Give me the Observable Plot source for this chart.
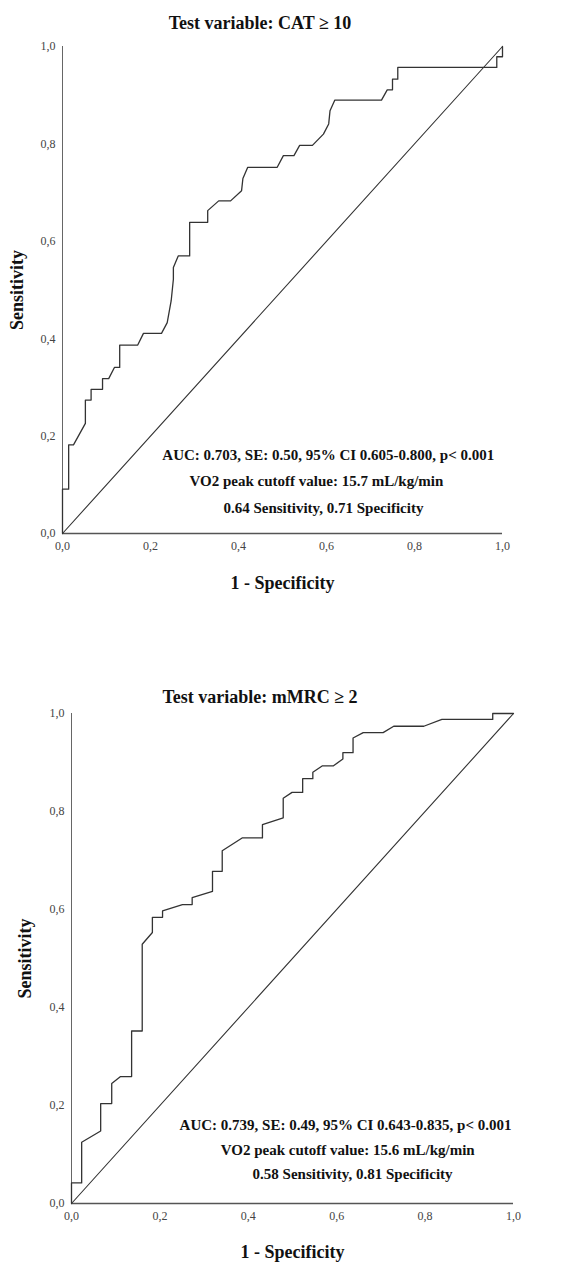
<!DOCTYPE html>
<html>
<head>
<meta charset="utf-8">
<script src="https://cdn.jsdelivr.net/npm/d3@7"></script>
<script src="https://cdn.jsdelivr.net/npm/@observablehq/plot@0.6"></script>
<style>
  html, body { margin: 0; padding: 0; background: #fff; }
  body { width: 580px; height: 1262px; position: relative; overflow: hidden; font-family: "Liberation Serif", "Times New Roman", serif; }
  .title { position: absolute; left: 0; width: 520px; text-align: center; font-weight: bold; font-size: 18px; color: #111; line-height: 18px; }
  .chart { position: absolute; left: 0; }
</style>
</head>
<body>
<div class="title" id="t1" style="top:14px">Test variable: CAT ≥ 10</div>
<div class="chart" id="c1" style="top:36px"></div>
<div class="title" id="t2" style="top:688px">Test variable: mMRC ≥ 2</div>
<div class="chart" id="c2" style="top:705px"></div>
<script>
// ---- Data ----
const ticks = [0, 0.2, 0.4, 0.6, 0.8, 1.0];
const diagonal = [0, 1];

// Chart 1: CAT >= 10
const catFPR = [0, 0, 0.014, 0.014, 0.025, 0.052, 0.052, 0.065, 0.065, 0.091, 0.091, 0.105, 0.118, 0.13, 0.13, 0.171, 0.184, 0.225, 0.238, 0.247, 0.252, 0.252, 0.263, 0.289, 0.289, 0.33, 0.33, 0.355, 0.382, 0.407, 0.41, 0.421, 0.488, 0.502, 0.526, 0.539, 0.568, 0.593, 0.605, 0.608, 0.619, 0.725, 0.738, 0.75, 0.75, 0.762, 0.762, 0.987, 0.987, 1.0, 1.0];
const catTPR = [0, 0.091, 0.091, 0.182, 0.182, 0.226, 0.274, 0.274, 0.296, 0.296, 0.318, 0.318, 0.341, 0.341, 0.387, 0.387, 0.411, 0.411, 0.433, 0.478, 0.522, 0.546, 0.570, 0.570, 0.639, 0.639, 0.663, 0.683, 0.683, 0.704, 0.729, 0.752, 0.752, 0.776, 0.776, 0.797, 0.797, 0.820, 0.841, 0.868, 0.890, 0.890, 0.911, 0.911, 0.933, 0.933, 0.957, 0.957, 0.979, 0.979, 1.0];
const catNotes = [
  "AUC: 0.703, SE: 0.50, 95% CI 0.605-0.800, p< 0.001",
  "VO2 peak cutoff value: 15.7 mL/kg/min",
  "0.64 Sensitivity, 0.71 Specificity"
];

// Chart 2: mMRC >= 2
const mmrcFPR = [0, 0, 0.023, 0.023, 0.066, 0.066, 0.091, 0.091, 0.111, 0.136, 0.136, 0.160, 0.160, 0.183, 0.183, 0.206, 0.206, 0.251, 0.273, 0.273, 0.319, 0.319, 0.341, 0.341, 0.386, 0.432, 0.432, 0.479, 0.479, 0.499, 0.523, 0.523, 0.546, 0.546, 0.567, 0.592, 0.614, 0.614, 0.637, 0.637, 0.660, 0.705, 0.729, 0.797, 0.838, 0.953, 0.953, 1.0];
const mmrcTPR = [0, 0.042, 0.042, 0.125, 0.148, 0.204, 0.204, 0.245, 0.259, 0.259, 0.352, 0.352, 0.529, 0.553, 0.584, 0.584, 0.597, 0.610, 0.610, 0.624, 0.637, 0.678, 0.678, 0.720, 0.746, 0.746, 0.773, 0.787, 0.827, 0.839, 0.839, 0.867, 0.867, 0.880, 0.893, 0.893, 0.907, 0.920, 0.920, 0.950, 0.961, 0.961, 0.974, 0.974, 0.988, 0.988, 1.0, 1.0];
const mmrcNotes = [
  "AUC: 0.739, SE: 0.49, 95% CI 0.643-0.835, p< 0.001",
  "VO2 peak cutoff value: 15.6 mL/kg/min",
  "0.58 Sensitivity, 0.81 Specificity"
];

const yLabel = "Sensitivity";
const xLabel = "1 - Specificity";

// ---- Drawing ----
const fmt = d => d.toFixed(1).replace(".", ",");
const FONT = "'Liberation Serif', 'Times New Roman', serif";

function roc({fpr, tpr, notes, width, height, ml, mr, mt, mb, notePos, yLabDx, xLabDy}) {
  const pts = fpr.map((x, i) => ({x, y: tpr[i]}));
  const diag = diagonal.map(v => ({x: v, y: v}));
  const noteData = notes.map((t, i) => ({t, x: notePos[i][0], y: notePos[i][1]}));
  return Plot.plot({
    width, height,
    marginLeft: ml, marginRight: mr, marginTop: mt, marginBottom: mb,
    style: {fontFamily: FONT, fontSize: "12px", color: "#444", background: "#fff"},
    x: {domain: [0, 1], ticks, tickFormat: fmt, tickSize: 0, tickPadding: 8, label: null},
    y: {domain: [0, 1], ticks, tickFormat: fmt, tickSize: 0, tickPadding: 7, label: null},
    marks: [
      Plot.ruleX([0], {stroke: "#666", strokeWidth: 1}),
      Plot.ruleY([0], {stroke: "#555", strokeWidth: 1.6}),
      Plot.line(diag, {x: "x", y: "y", stroke: "#333", strokeWidth: 1.1}),
      Plot.line(pts, {x: "x", y: "y", stroke: "#333", strokeWidth: 1.3}),
      Plot.text(noteData, {x: "x", y: "y", text: "t", fontWeight: "bold", fontSize: 15, fill: "#111", textAnchor: "middle", fontFamily: FONT}),
      Plot.text([yLabel], {frameAnchor: "left", dx: yLabDx, rotate: -90, textAnchor: "middle", lineAnchor: "middle", fontWeight: "bold", fontSize: 18, fill: "#111", fontFamily: FONT}),
      Plot.text([xLabel], {frameAnchor: "bottom", dy: xLabDy, textAnchor: "middle", lineAnchor: "middle", fontWeight: "bold", fontSize: 18, fill: "#111", fontFamily: FONT})
    ]
  });
}

document.getElementById("c1").appendChild(roc({
  fpr: catFPR, tpr: catTPR, notes: catNotes,
  width: 580, height: 564, ml: 62, mr: 78, mt: 10, mb: 67,
  notePos: [[0.604, 0.160], [0.577, 0.108], [0.593, 0.053]],
  yLabDx: -45, xLabDy: 50
}));

document.getElementById("c2").appendChild(roc({
  fpr: mmrcFPR, tpr: mmrcTPR, notes: mmrcNotes,
  width: 580, height: 557, ml: 71, mr: 67, mt: 8, mb: 59,
  notePos: [[0.620, 0.159], [0.625, 0.108], [0.636, 0.060]],
  yLabDx: -46, xLabDy: 49
}));
</script>
</body>
</html>
